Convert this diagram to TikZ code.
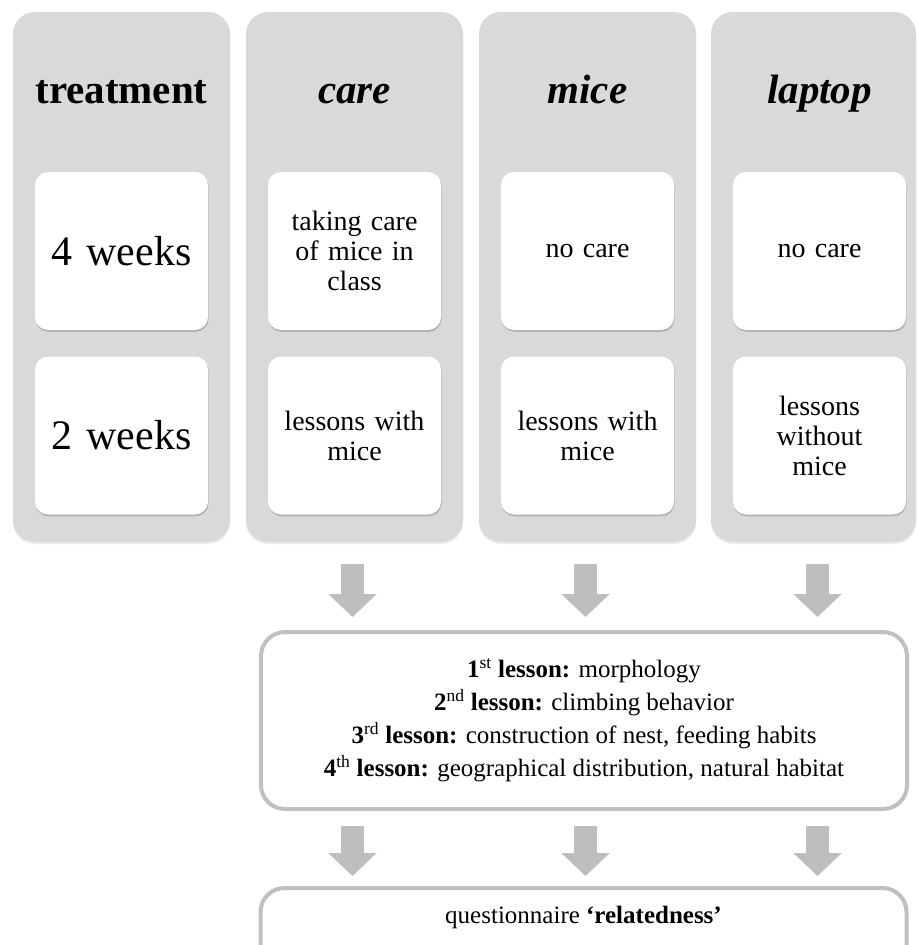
\documentclass[tikz,border=0pt]{standalone}
\usepackage{fontspec}
\setmainfont{Liberation Serif}
\usetikzlibrary{arrows.meta,shadows,calc}
\definecolor{colgray}{HTML}{D9D9D9}
\definecolor{arrgray}{HTML}{BEBEBE}
\definecolor{framegray}{HTML}{C0C0C0}
\begin{document}
\begin{tikzpicture}[x=1pt,y=-1pt,
  column/.style={rectangle, rounded corners=22pt, fill=colgray,
    minimum width=217pt, minimum height=530pt, inner sep=0pt,
    drop shadow={shadow xshift=0pt,shadow yshift=-2pt,opacity=0.15}},
  card/.style={rectangle, rounded corners=13pt, fill=white,
    minimum width=173pt, minimum height=158pt, text width=150pt,
    align=center, inner sep=0pt, font=\fontsize{28}{30}\selectfont,
    drop shadow={shadow xshift=0.6pt,shadow yshift=-1.8pt,opacity=0.45}},
  bigcard/.style={card, font=\fontsize{42}{46}\selectfont},
  title/.style={anchor=base, font=\fontsize{41}{46}\selectfont\bfseries},
  frame/.style={rectangle, rounded corners=24pt, draw=framegray,
    line width=4pt, fill=white, minimum width=646pt, inner sep=0pt},
  bigarrow/.style={draw=arrgray, line width=23pt,
    -{Triangle[width=47pt,length=23pt]}}]

\useasboundingbox (0,0) rectangle (917,945);
\fill[white] (0,0) rectangle (917,945);

% grey columns
\node[column] (treat)  at (121.5,277) {};
\node[column] (care)   at (354.5,277) {};
\node[column] (mice)   at (587.5,277) {};
\node[column, minimum width=205pt] (laptop) at (813.5,277) {};

% column headings
\node[title] (ttreat)  at (121.5,103) {treatment};
\node[title] (tcare)   at (354.5,103) {\itshape care};
\node[title] (tmice)   at (587.5,103) {\itshape mice};
\node[title] (tlaptop) at (819.5,103) {\itshape laptop};

% white cards
\node[bigcard] (w4) at (121.5,251)   {4 weeks};
\node[bigcard] (w2) at (121.5,435.5) {2 weeks};
\node[card] (care1)   at (354.5,251)   {taking care\\of mice in\\class};
\node[card] (care2)   at (354.5,435.5) {lessons with\\mice};
\node[card] (mice1)   at (587.5,251)   {no care};
\node[card] (mice2)   at (587.5,435.5) {lessons with\\mice};
\node[card] (laptop1) at (819.5,251)   {no care};
\node[card] (laptop2) at (819.5,435.5) {lessons\\without\\mice};

% lesson overview
\node[frame, minimum height=177pt, align=center,
      font=\fontsize{25}{33}\selectfont] (lessons) at (584,720.5)
  {\textbf{1}\textsuperscript{st} \textbf{lesson:} morphology\\
   \textbf{2}\textsuperscript{nd} \textbf{lesson:} climbing behavior\\
   \textbf{3}\textsuperscript{rd} \textbf{lesson:} construction of nest, feeding habits\\
   \textbf{4}\textsuperscript{th} \textbf{lesson:} geographical distribution, natural habitat};

% questionnaire
\node[frame, minimum height=120pt] (quest) at (583.5,948) {};
\node[anchor=base, font=\fontsize{25}{30}\selectfont] (qtext) at (583.5,923)
  {questionnaire \textbf{‘relatedness’}};

% arrows from each group down to the lessons and on to the questionnaire
\foreach \c in {care,mice,laptop}{
  \draw[bigarrow] ($(\c2.south |- \c.south)+(-2,22)$) -- ($(\c2.south |- lessons.north)+(-2,-13)$);
  \draw[bigarrow] ($(\c2.south |- lessons.south)+(-2,15)$) -- ($(\c2.south |- quest.north)+(-2,-10)$);
}
\end{tikzpicture}
\end{document}
